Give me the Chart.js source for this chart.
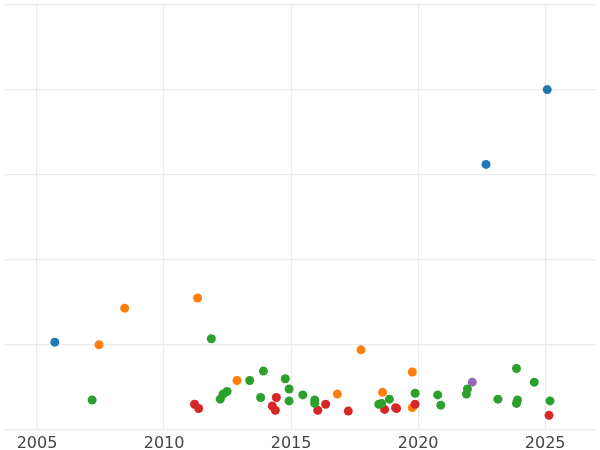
<!DOCTYPE html>
<html><head><meta charset="utf-8">
<script src="https://cdn.jsdelivr.net/npm/chart.js@4"></script>
<style>html,body{margin:0;padding:0;background:#fff}#c{width:600px;height:450px}</style>
</head><body><div id="c"><canvas id="cv"></canvas></div>
<script>
const blueX=[2005.70,2022.67,2025.08];
const blueY=[1.03,3.12,4.00];
const orangeX=[2007.44,2008.45,2011.32,2012.87,2016.82,2017.75,2018.60,2019.77,2019.77];
const orangeY=[1.00,1.43,1.55,0.58,0.42,0.94,0.44,0.68,0.26];
const purpleX=[2022.13];
const purpleY=[0.56];
const redX=[2011.20,2011.36,2014.26,2014.42,2014.38,2016.05,2016.36,2017.25,2018.68,2019.11,2019.15,2019.88,2025.15];
const redY=[0.30,0.25,0.28,0.38,0.23,0.23,0.30,0.22,0.24,0.26,0.25,0.30,0.17];
const greenX=[2007.17,2011.86,2012.21,2012.32,2012.48,2013.37,2013.80,2013.91,2014.77,2014.92,2014.92,2015.46,2015.93,2015.93,2018.45,2018.56,2018.87,2019.88,2020.77,2020.89,2021.90,2021.94,2023.14,2023.87,2023.87,2023.91,2024.57,2025.19];
const greenY=[0.35,1.07,0.36,0.42,0.45,0.58,0.38,0.69,0.60,0.48,0.34,0.41,0.35,0.31,0.30,0.31,0.36,0.43,0.41,0.29,0.42,0.48,0.36,0.72,0.31,0.35,0.56,0.34];
const xTicks=[2005,2010,2015,2020,2025];
const pts=(xs,ys)=>xs.map((x,i)=>({x,y:ys[i]}));
const ds=(xs,ys,c)=>({data:pts(xs,ys),backgroundColor:c,borderColor:c,pointRadius:4.5,pointHoverRadius:4.5,borderWidth:0});
new Chart(document.getElementById('cv'),{
type:'scatter',
data:{datasets:[ds(greenX,greenY,'#2ca02c'),ds(redX,redY,'#d62728'),ds(orangeX,orangeY,'#ff7f0e'),ds(purpleX,purpleY,'#9467bd'),ds(blueX,blueY,'#1f77b4')]},
options:{responsive:true,maintainAspectRatio:false,animation:false,
layout:{padding:{left:-3.4,right:-3.5,top:-4,bottom:-7}},
plugins:{legend:{display:false},tooltip:{enabled:false}},
scales:{
x:{type:'linear',min:2003.72,max:2026.98,
afterBuildTicks:a=>{a.ticks=xTicks.map(v=>({value:v}));},
grid:{color:'#ebebeb',lineWidth:1.2,drawTicks:false},border:{display:false},
ticks:{color:'#444',font:{family:'DejaVu Sans',size:16},padding:4,callback:v=>String(v)}},
y:{min:0,max:5,ticks:{display:false,stepSize:1},grid:{color:'#ebebeb',lineWidth:1.2,drawTicks:false},border:{display:false}}
}}});
</script></body></html>
